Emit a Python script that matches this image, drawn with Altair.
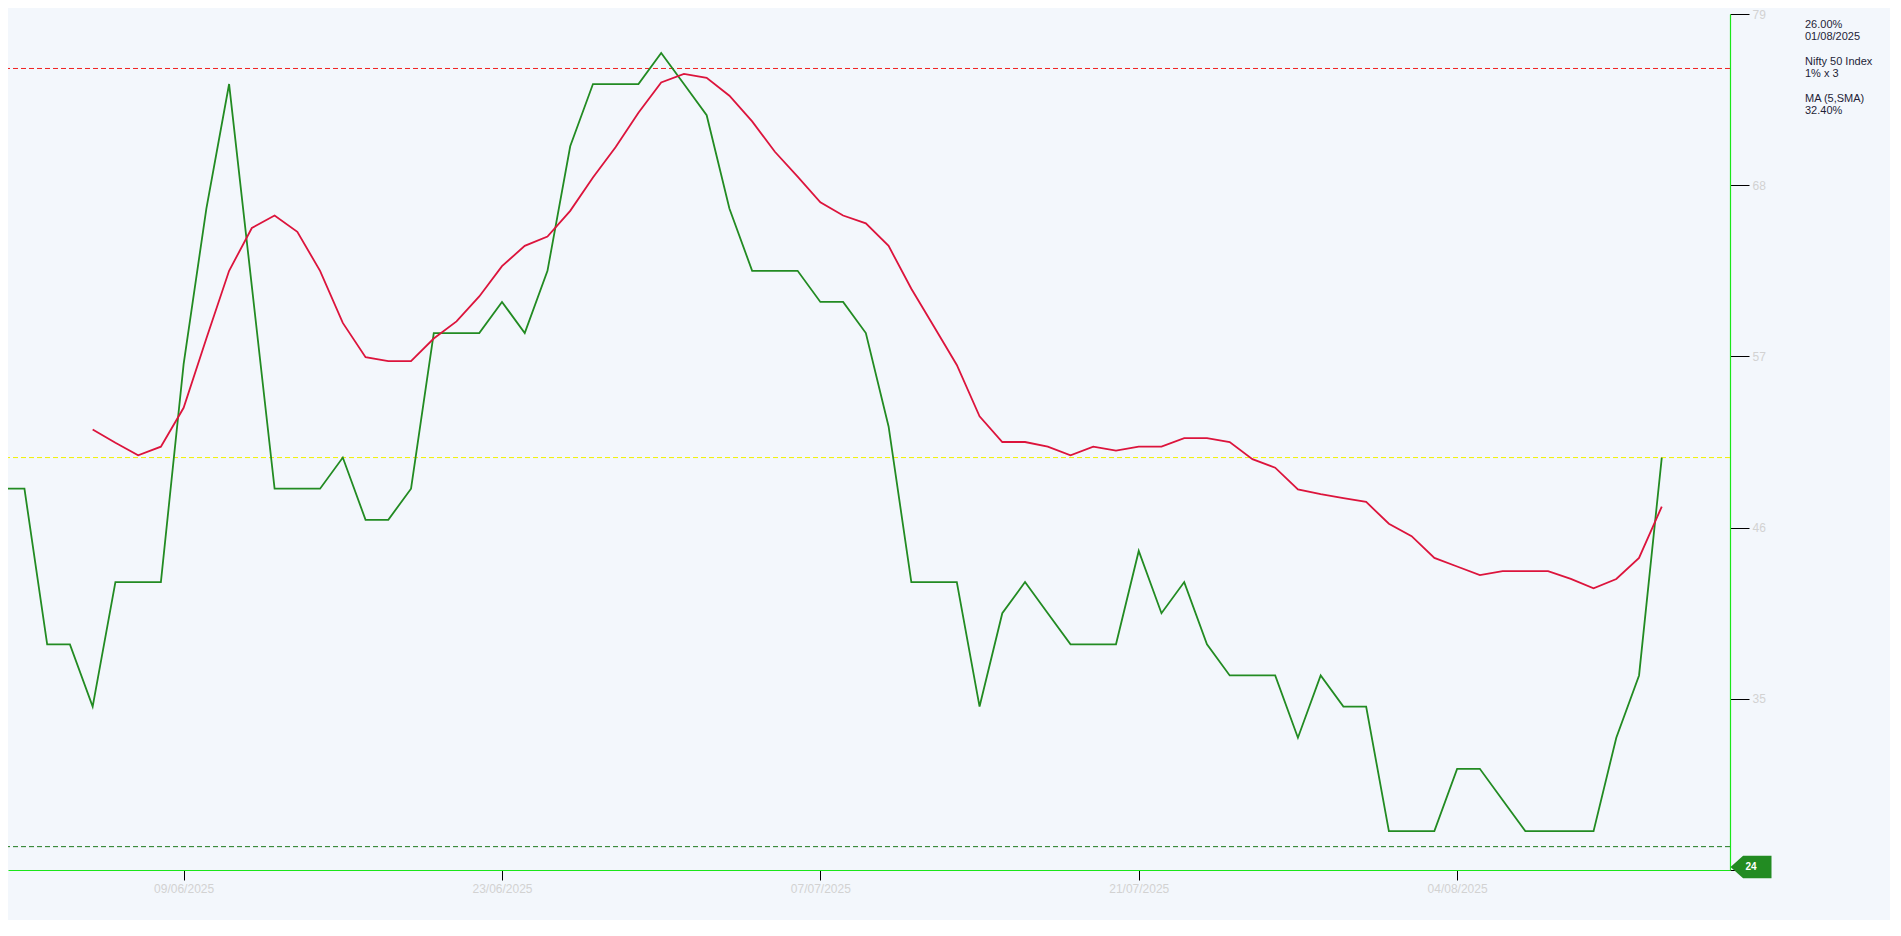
import altair as alt
import pandas as pd

# ---------------- data ----------------
start_date = "2025-06-01"

# Nifty 50 Index 1% x 3 (daily points from 01/06/2025)
green_vals = [48.5, 48.5, 38.5, 38.5, 34.5, 42.5, 42.5, 42.5, 56.5, 66.5,
              74.5, 61.5, 48.5, 48.5, 48.5, 50.5, 46.5, 46.5, 48.5, 58.5,
              58.5, 58.5, 60.5, 58.5, 62.5, 70.5, 74.5, 74.5, 74.5, 76.5,
              74.5, 72.5, 66.5, 62.5, 62.5, 62.5, 60.5, 60.5, 58.5, 52.5,
              42.5, 42.5, 42.5, 34.5, 40.5, 42.5, 40.5, 38.5, 38.5, 38.5,
              44.5, 40.5, 42.5, 38.5, 36.5, 36.5, 36.5, 32.5, 36.5, 34.5,
              34.5, 26.5, 26.5, 26.5, 30.5, 30.5, 28.5, 26.5, 26.5, 26.5,
              26.5, 32.5, 36.5, 50.5]

# MA (5,SMA) - starts at the 5th point
ma_offset = 4
ma_vals = [52.3, 51.45, 50.65, 51.2, 53.7, 58.15, 62.5, 65.25, 66.05, 65.0,
           62.5, 59.15, 56.95, 56.7, 56.7, 58.15, 59.25, 60.85, 62.8, 64.1,
           64.7, 66.35, 68.5, 70.45, 72.65, 74.6, 75.15, 74.9, 73.75, 72.1,
           70.15, 68.55, 66.9, 66.05, 65.55, 64.1, 61.35, 58.9, 56.45, 53.15,
           51.5, 51.5, 51.2, 50.65, 51.2, 50.95, 51.2, 51.2, 51.75, 51.75,
           51.5, 50.4, 49.85, 48.45, 48.15, 47.9, 47.65, 46.25, 45.45, 44.05,
           43.5, 42.95, 43.2, 43.2, 43.2, 42.7, 42.1, 42.7, 44.05, 47.35]

ref_names = ["upper", "last", "lower"]
ref_levels = [75.5, 50.5, 25.5]

x_tick_dates = ["2025-06-09", "2025-06-23", "2025-07-07", "2025-07-21", "2025-08-04"]
y_ticks = [24, 35, 46, 57, 68, 79]
y_domain = [24, 79]
x_domain = ["2025-06-01 06:39", "2025-08-16 00:00"]

marker_value = [24]
marker_label = "24"

legend_groups = [["26.00%", "01/08/2025"],
                 ["Nifty 50 Index", "1% x 3"],
                 ["MA (5,SMA)", "32.40%"]]

# ---------------- tables ----------------
dates = pd.date_range(start_date, periods=len(green_vals), freq="D").strftime("%Y-%m-%d").tolist()
df_green = pd.DataFrame({"date": dates, "value": green_vals})
df_ma = pd.DataFrame({"date": dates[ma_offset:ma_offset + len(ma_vals)], "value": ma_vals})
df_ref = pd.DataFrame({"name": ref_names, "value": ref_levels})
df_marker = pd.DataFrame({"value": marker_value})
df_one = pd.DataFrame({"k": [0]})


def ms(s):
    return int(pd.Timestamp(s, tz="UTC").value // 10**6)


x_tick_ms = [ms(d) for d in x_tick_dates]
x_domain_ms = [ms(d) for d in x_domain]

W, H = 1722, 856
BG = "#F3F7FC"
AXIS_GREEN = "#19E619"
LABEL_GRAY = "#D2D2D2"

x_enc = alt.X(
    "date:T",
    scale=alt.Scale(type="utc", domain=x_domain_ms, nice=False),
    axis=alt.Axis(
        values=x_tick_ms,
        labelExpr="utcFormat(datum.value, '%d/%m/%Y')",
        grid=False, title=None,
        domainColor=AXIS_GREEN, domainWidth=1.2,
        tickColor="black", tickSize=10, tickWidth=1,
        labelColor=LABEL_GRAY, labelFontSize=12, labelFont="Liberation Sans",
        labelPadding=3,
    ),
)

y_enc = alt.Y(
    "value:Q",
    scale=alt.Scale(domain=y_domain, nice=False, zero=False),
    axis=alt.Axis(
        orient="right", values=y_ticks,
        labelExpr="datum.value == 24 ? '' : datum.label",
        grid=False, title=None,
        domainColor=AXIS_GREEN, domainWidth=1.2,
        tickColor="black", tickSize=19, tickWidth=1,
        labelColor=LABEL_GRAY, labelFontSize=12, labelFont="Liberation Sans",
        labelPadding=3,
    ),
)

refs = alt.Chart(df_ref).mark_rule(strokeDash=[5, 3], strokeWidth=1).encode(
    y=y_enc,
    color=alt.Color("name:N", scale=alt.Scale(domain=ref_names,
                                              range=["#F02020", "#F0F000", "#1E7A1E"]),
                    legend=None),
)

green_line = alt.Chart(df_green).mark_line(color="#228B22", strokeWidth=1.8, clip=True).encode(
    x=x_enc, y=y_enc
)

ma_line = alt.Chart(df_ma).mark_line(color="#DC143C", strokeWidth=1.8, clip=True).encode(
    x=x_enc, y=y_enc
)

arrow_path = "M -1 0 L -0.385 -0.554 L 1 -0.554 L 1 0.554 L -0.385 0.554 Z"
marker = alt.Chart(df_marker).mark_point(
    shape=arrow_path, size=1681, filled=True, color="#228B22", opacity=1,
    strokeWidth=0, yOffset=-3,
).encode(x=alt.value(W + 21), y=y_enc)

marker_text = alt.Chart(df_marker).mark_text(
    text=marker_label, color="white", fontSize=10, fontWeight="bold",
    font="Liberation Sans", align="center", baseline="middle", yOffset=-3,
).encode(x=alt.value(W + 21), y=y_enc)

legend_layers = []
group_step = 37
for i, lines in enumerate(legend_groups):
    legend_layers.append(
        alt.Chart(df_one).mark_text(
            text=lines, align="left", baseline="top", fontSize=11,
            font="Liberation Sans", color="#1E1E38", lineHeight=12.2,
        ).encode(x=alt.value(W + 75), y=alt.value(5 + i * group_step))
    )

chart = alt.layer(refs, green_line, ma_line, marker, marker_text, *legend_layers).properties(
    width=W, height=H,
    padding={"left": 0, "top": 6, "right": 160, "bottom": 50},
    autosize=alt.AutoSizeParams(type="none"),
).configure(background=BG).configure_view(stroke=None, fill=BG)

chart.save("out.html", embed_options={"renderer": "svg", "actions": False})
